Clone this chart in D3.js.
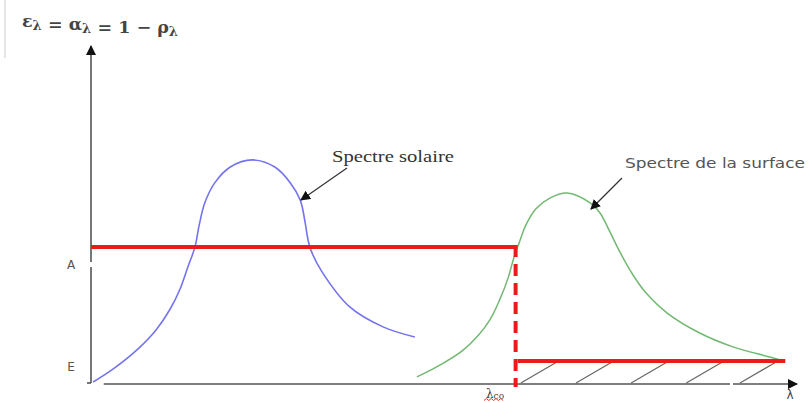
<!DOCTYPE html>
<html>
<head>
<meta charset="utf-8">
<script src="https://cdn.jsdelivr.net/npm/d3@7/dist/d3.min.js"></script>
<style>
  html, body { margin: 0; padding: 0; background: #fff; }
  svg { display: block; }
</style>
</head>
<body>
<svg id="chart" width="809" height="401"></svg>
<script>
// Wavelength (arbitrary units) and spectral value (0..1) of the solar spectrum
const solarLambda = [0.03, 0.31, 0.65, 0.92, 1.12, 1.26, 1.37, 1.47, 1.53, 1.61, 1.75, 1.97, 2.28, 2.60, 2.82, 2.96, 3.03, 3.07, 3.11, 3.27, 3.66, 4.13, 4.58];
const solarValue  = [0.003, 0.041, 0.098, 0.157, 0.219, 0.278, 0.343, 0.402, 0.467, 0.533, 0.592, 0.639, 0.660, 0.639, 0.592, 0.541, 0.473, 0.423, 0.393, 0.328, 0.225, 0.166, 0.136];

// Emission spectrum of the surface
const surfaceLambda = [4.61, 4.96, 5.25, 5.47, 5.64, 5.78, 5.90, 5.98, 6.07, 6.15, 6.29, 6.49, 6.73, 7.06, 7.20, 7.34, 7.48, 7.65, 7.84, 8.15, 8.61, 9.08, 9.60, 9.75];
const surfaceValue  = [0.018, 0.056, 0.095, 0.139, 0.186, 0.246, 0.311, 0.370, 0.423, 0.467, 0.515, 0.547, 0.562, 0.533, 0.503, 0.447, 0.388, 0.325, 0.269, 0.207, 0.148, 0.107, 0.077, 0.068];

// Ideal selective surface: absorptance A below the cut-off, emittance E above it
const levelA = 0.402;
const levelE = 0.065;
const lambdaCutoff = 6.02;
const lambdaEnd = 9.82;
const hatchStarts = [6.08, 6.86, 7.64, 8.42, 9.18];
const yTickLabels = ["A", "E"];
const yTickValues = [0.35, 0.047];

const svg = d3.select("#chart");

const x = d3.scaleLinear().domain([0, 10]).range([91, 798]);
const y = d3.scaleLinear().domain([0, 1]).range([383, 45]);

// arrow head marker
const defs = svg.append("defs");
defs.append("marker")
  .attr("id", "head")
  .attr("viewBox", "0 0 10 10")
  .attr("refX", 9).attr("refY", 5)
  .attr("markerWidth", 10).attr("markerHeight", 10)
  .attr("markerUnits", "userSpaceOnUse")
  .attr("orient", "auto")
  .append("path").attr("d", "M0,0 L10,5 L0,10 Z").attr("fill", "#111");

// thin frame edge at top-left
svg.append("line").attr("x1", 5).attr("x2", 5).attr("y1", 0).attr("y2", 58)
  .attr("stroke", "#ccc").attr("stroke-width", 1);

// axes
const axisColor = "#555";
svg.append("line")
  .attr("x1", x(0)).attr("x2", x(0)).attr("y1", y(0)).attr("y2", y(1) + 1)
  .attr("stroke", axisColor).attr("stroke-width", 1.6)
  .attr("marker-end", "url(#head)");
svg.append("line")
  .attr("x1", x(0) - 4).attr("x2", x(0)).attr("y1", y(0)).attr("y2", y(0))
  .attr("stroke", axisColor).attr("stroke-width", 1.6);
svg.append("line")
  .attr("x1", x(0.18)).attr("x2", x(10) - 1).attr("y1", y(0) + 1).attr("y2", y(0) + 1)
  .attr("stroke", axisColor).attr("stroke-width", 1.4)
  .attr("marker-end", "url(#head)");
// small breaks on the axes
svg.append("rect").attr("x", x(0) - 2).attr("y", 262).attr("width", 4).attr("height", 5).attr("fill", "#fff");
svg.append("rect").attr("x", 730).attr("y", y(0) - 1).attr("width", 3).attr("height", 4).attr("fill", "#fff");

// y labels
svg.selectAll("text.ytick")
  .data(yTickLabels)
  .join("text")
  .attr("class", "ytick")
  .attr("x", 71)
  .attr("y", (d, i) => y(yTickValues[i]))
  .attr("dy", "0.35em")
  .attr("text-anchor", "middle")
  .attr("font-family", "DejaVu Sans, sans-serif")
  .attr("font-size", 12)
  .attr("fill", "#555")
  .text(d => d);

// formula on top of the y axis
const formula = svg.append("text")
  .attr("x", 22).attr("y", 27)
  .attr("font-family", "DejaVu Serif, serif")
  .attr("font-size", 16)
  .attr("font-weight", "bold")
  .attr("fill", "#444")
  .attr("textLength", 156)
  .attr("lengthAdjust", "spacingAndGlyphs");
const parts = [["ε", "λ"], [" = α", "λ"], [" = 1 − ρ", "λ"]];
parts.forEach(([main, sub]) => {
  formula.append("tspan").text(main).attr("dy", 0);
  formula.append("tspan").text(sub).attr("font-size", 12).attr("dy", 3);
  formula.append("tspan").text("").attr("dy", -3);
});

// hatching under the E level
svg.selectAll("line.hatch")
  .data(hatchStarts)
  .join("line")
  .attr("class", "hatch")
  .attr("x1", d => x(d)).attr("y1", y(0))
  .attr("x2", d => x(d + 0.51)).attr("y2", y(levelE) + 1)
  .attr("stroke", "#666").attr("stroke-width", 1.2);

// spectra
const line = d3.line().x(d => x(d[0])).y(d => y(d[1])).curve(d3.curveCatmullRom.alpha(0.5));
svg.append("path")
  .datum(d3.zip(solarLambda, solarValue))
  .attr("d", line)
  .attr("fill", "none").attr("stroke", "#7474ee").attr("stroke-width", 1.6);
svg.append("path")
  .datum(d3.zip(surfaceLambda, surfaceValue))
  .attr("d", line)
  .attr("fill", "none").attr("stroke", "#72b872").attr("stroke-width", 1.5);

// selective surface profile
const red = "#ee1a1a";
svg.append("line")
  .attr("x1", x(0)).attr("x2", x(lambdaCutoff)).attr("y1", y(levelA)).attr("y2", y(levelA))
  .attr("stroke", red).attr("stroke-width", 4);
svg.append("line")
  .attr("x1", x(lambdaCutoff) - 1).attr("x2", x(lambdaCutoff) - 1)
  .attr("y1", y(levelA) - 2).attr("y2", y(0) + 4)
  .attr("stroke", red).attr("stroke-width", 4)
  .attr("stroke-dasharray", "12,7");
svg.append("line")
  .attr("x1", x(lambdaCutoff) + 1).attr("x2", x(lambdaEnd)).attr("y1", y(levelE)).attr("y2", y(levelE))
  .attr("stroke", red).attr("stroke-width", 4);

// annotations
svg.append("text")
  .attr("x", 332).attr("y", 162)
  .attr("font-family", "Liberation Serif, serif")
  .attr("font-size", 16.5)
  .attr("fill", "#333")
  .attr("textLength", 122)
  .attr("lengthAdjust", "spacingAndGlyphs")
  .text("Spectre solaire");
svg.append("line")
  .attr("x1", 347).attr("y1", 168).attr("x2", 301).attr("y2", 200)
  .attr("stroke", "#333").attr("stroke-width", 1.3)
  .attr("marker-end", "url(#head)");

svg.append("text")
  .attr("x", 625).attr("y", 168)
  .attr("font-family", "DejaVu Sans, sans-serif")
  .attr("font-size", 14)
  .attr("fill", "#555")
  .attr("textLength", 180)
  .attr("lengthAdjust", "spacingAndGlyphs")
  .text("Spectre de la surface");
svg.append("line")
  .attr("x1", 622).attr("y1", 178).attr("x2", 591).attr("y2", 209)
  .attr("stroke", "#333").attr("stroke-width", 1.3)
  .attr("marker-end", "url(#head)");

// x labels
const lco = svg.append("text")
  .attr("x", 486).attr("y", 398)
  .attr("font-family", "DejaVu Serif, serif")
  .attr("font-size", 12)
  .attr("fill", "#444");
lco.append("tspan").text("λ");
lco.append("tspan").text("co").attr("font-size", 9).attr("dy", 1);
// squiggle under the cut-off label
const sq = d3.range(0, 9).map(i => [484 + i * 2.4, i % 2 ? 398.5 : 400.5]);
svg.append("path").attr("d", d3.line()(sq))
  .attr("fill", "none").attr("stroke", "#e03030").attr("stroke-width", 1);

svg.append("text")
  .attr("x", 790).attr("y", 399)
  .attr("text-anchor", "middle")
  .attr("font-family", "DejaVu Sans, sans-serif")
  .attr("font-size", 12)
  .attr("fill", "#444")
  .text("λ");
</script>
</body>
</html>
